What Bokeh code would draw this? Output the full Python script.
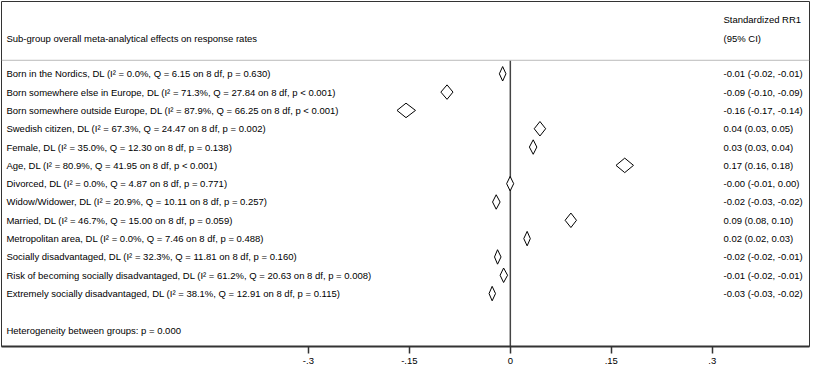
from bokeh.plotting import figure
from bokeh.models import Range1d, FixedTicker, Span, ColumnDataSource
from bokeh.core.properties import value
from bokeh.embed import file_html
from bokeh.resources import INLINE

# ---------------- data ----------------
groups = ["Born in the Nordics", "Born somewhere else in Europe", "Born somewhere outside Europe",
          "Swedish citizen", "Female", "Age", "Divorced", "Widow/Widower", "Married",
          "Metropolitan area", "Socially disadvantaged", "Risk of becoming socially disadvantaged",
          "Extremely socially disadvantaged"]
i2 = ["0.0", "71.3", "87.9", "67.3", "35.0", "80.9", "0.0", "20.9", "46.7", "0.0", "32.3", "61.2", "38.1"]
qstat = ["6.15", "27.84", "66.25", "24.47", "12.30", "41.95", "4.87", "10.11", "15.00", "7.46",
         "11.81", "20.63", "12.91"]
pval = ["= 0.630", "< 0.001", "< 0.001", "= 0.002", "= 0.138", "< 0.001", "= 0.771", "= 0.257",
        "= 0.059", "= 0.488", "= 0.160", "= 0.008", "= 0.115"]
est = [-0.0114, -0.094, -0.155, 0.044, 0.034, 0.170, -0.0003, -0.021, 0.090, 0.025, -0.019, -0.010, -0.027]
lo = [-0.0163, -0.1032, -0.1684, 0.0355, 0.0283, 0.157, -0.0055, -0.0264, 0.0814, 0.0200, -0.0235, -0.0152, -0.0316]
hi = [-0.0065, -0.0852, -0.1409, 0.0525, 0.0394, 0.183, 0.0050, -0.0152, 0.0983, 0.0297, -0.0138, -0.0041, -0.0220]
ci_text = ["-0.01 (-0.02, -0.01)", "-0.09 (-0.10, -0.09)", "-0.16 (-0.17, -0.14)", "0.04 (0.03, 0.05)",
           "0.03 (0.03, 0.04)", "0.17 (0.16, 0.18)", "-0.00 (-0.01, 0.00)", "-0.02 (-0.03, -0.02)",
           "0.09 (0.08, 0.10)", "0.02 (0.02, 0.03)", "-0.02 (-0.02, -0.01)", "-0.01 (-0.02, -0.01)",
           "-0.03 (-0.03, -0.02)"]
heterogeneity = "Heterogeneity between groups: p = 0.000"
title_left = "Sub-group overall meta-analytical effects on response rates"
title_right = ["Standardized RR1", "(95% CI)"]
ticks = [-0.3, -0.15, 0.0, 0.15, 0.3]
tick_labels = ["-.3", "-.15", "0", ".15", ".3"]

# ---------------- layout ----------------
FONT = value("Liberation Sans")
FS = "9.5px"
X_LEFT_TXT = -0.7487
X_RIGHT_TXT = 0.3167
HALF_H = 0.395

n = len(groups)
rows = list(range(n))
labels = [f"{g}, DL (I\u00b2 = {a}%, Q = {b} on 8 df, p {c})" for g, a, b, c in zip(groups, i2, qstat, pval)]

p = figure(width=811, height=366, x_range=Range1d(-0.756, 0.4445), y_range=Range1d(14.89, -3.947),
           output_backend="svg", toolbar_location=None, y_axis_location=None,
           min_border_left=1, min_border_right=2, min_border_top=1, min_border_bottom=0)
p.grid.visible = False
p.outline_line_color = "#333333"
p.outline_line_width = 1
p.background_fill_color = "white"
p.border_fill_color = "white"

ax = p.xaxis[0]
ax.ticker = FixedTicker(ticks=ticks)
ax.major_label_overrides = {t: l for t, l in zip(ticks, tick_labels)}
ax.major_tick_in = 0
ax.major_tick_out = 7
ax.minor_tick_line_color = None
ax.axis_line_width = 2
ax.axis_line_color = "#333333"
ax.major_tick_line_color = "#333333"
ax.major_tick_line_width = 1.5
ax.major_label_text_font = "Liberation Sans"
ax.major_label_text_font_size = FS
ax.major_label_text_color = "black"
ax.major_label_standoff = 4

# header separator
p.add_layout(Span(location=-0.737, dimension="width", line_color="#bbbbbb", line_width=1))
# zero line
p.segment(x0=[0], y0=[-0.737], x1=[0], y1=[14.89], line_color="#444444", line_width=1.5)

# diamonds
xs = [[l, e, h, e] for l, e, h in zip(lo, est, hi)]
ys = [[r, r - HALF_H, r, r + HALF_H] for r in rows]
p.patches(xs=xs, ys=ys, fill_color="white", line_color="black", line_width=1)

# left labels
src_l = ColumnDataSource(dict(x=[X_LEFT_TXT] * n, y=rows, t=labels))
p.text(x="x", y="y", text="t", source=src_l, text_font=FONT, text_font_size=FS,
       text_baseline="middle", text_align="left", text_color="black")
# right CI text
src_r = ColumnDataSource(dict(x=[X_RIGHT_TXT] * n, y=rows, t=ci_text))
p.text(x="x", y="y", text="t", source=src_r, text_font=FONT, text_font_size=FS,
       text_baseline="middle", text_align="left", text_color="black")

# headers and footer
p.text(x=[X_LEFT_TXT, X_RIGHT_TXT, X_RIGHT_TXT, X_LEFT_TXT], y=[-1.947, -2.947, -1.947, 14.0],
       text=[title_left, title_right[0], title_right[1], heterogeneity],
       text_font=FONT, text_font_size=FS, text_baseline="middle", text_align="left", text_color="black")

open("out.html", "w").write(file_html(p, INLINE))
